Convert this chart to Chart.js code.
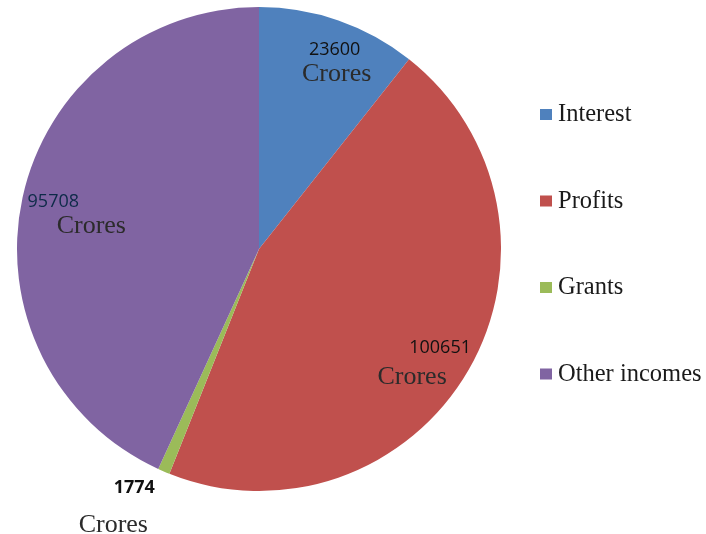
<!DOCTYPE html>
<html>
<head>
<meta charset="utf-8">
<script src="https://cdn.jsdelivr.net/npm/chart.js@4/dist/chart.umd.min.js"></script>
<style>
  html, body { margin: 0; padding: 0; background: #fff; }
  #wrap { width: 706px; height: 534px; position: relative; }
</style>
</head>
<body>
<div id="wrap"><canvas id="incomeChart" width="706" height="534"></canvas></div>
<script>
// Income sources (in crores)
const sources = ['Interest', 'Profits', 'Grants', 'Other incomes'];
const amounts = [23600, 100651, 1774, 95708];
const colors  = ['#4F81BD', '#C0504D', '#9BBB59', '#8064A2'];

// label placement per slice: [radius factor, number dx, dy, "Crores" dx, dy, number colour, bold]
const labelPlace = [
    [0.89,   5,  4,   2, 25, '#111', false],
    [0.85,   3, -4, -28, 29, '#111', false],
    [1.11, -19, -8, -21, 37, '#111', true],
    [0.87,   0, -2,  38, 24, '#0d2a48', false]
];

const sliceLabels = {
    id: 'sliceLabels',
    afterDatasetsDraw(chart) {
        const ctx = chart.ctx;
        chart.getDatasetMeta(0).data.forEach((arc, i) => {
            const [f, nx, ny, dx, dy, col, bold] = labelPlace[i];
            const mid = (arc.startAngle + arc.endAngle) / 2;
            const x = arc.x + Math.cos(mid) * arc.outerRadius * f + nx;
            const y = arc.y + Math.sin(mid) * arc.outerRadius * f + ny;
            ctx.save();
            ctx.textAlign = 'center';
            ctx.textBaseline = 'middle';
            ctx.fillStyle = col;
            ctx.font = (bold ? 'bold ' : '') + '18px "Open Sans"';
            ctx.fillText(String(amounts[i]), x, y);
            ctx.fillStyle = '#2b2b2b';
            ctx.font = '26px "Liberation Serif"';
            ctx.fillText('Crores', x + dx, y + dy);
            ctx.restore();
        });
    }
};

const sideLegend = {
    id: 'sideLegend',
    afterDraw(chart) {
        const ctx = chart.ctx;
        const x0 = 540, y0 = 114, step = 86.5;
        ctx.save();
        ctx.font = '24.5px "Liberation Serif"';
        ctx.textBaseline = 'middle';
        ctx.textAlign = 'left';
        chart.data.labels.forEach((lab, i) => {
            const y = y0 + i * step;
            ctx.fillStyle = colors[i];
            ctx.fillRect(x0, y - 5, 12, 11);
            ctx.fillStyle = '#1a1a1a';
            ctx.fillText(lab, x0 + 18, y + 1);
        });
        ctx.restore();
    }
};

new Chart(document.getElementById('incomeChart').getContext('2d'), {
    type: 'pie',
    data: {
        labels: sources,
        datasets: [{ data: amounts, backgroundColor: colors, borderWidth: 0 }]
    },
    options: {
        responsive: false, animation: false,
        layout: { padding: { left: 16, right: 204, top: 7, bottom: 43 } },
        plugins: { legend: { display: false }, tooltip: { enabled: false } }
    },
    plugins: [sliceLabels, sideLegend]
});
</script>
</body>
</html>
